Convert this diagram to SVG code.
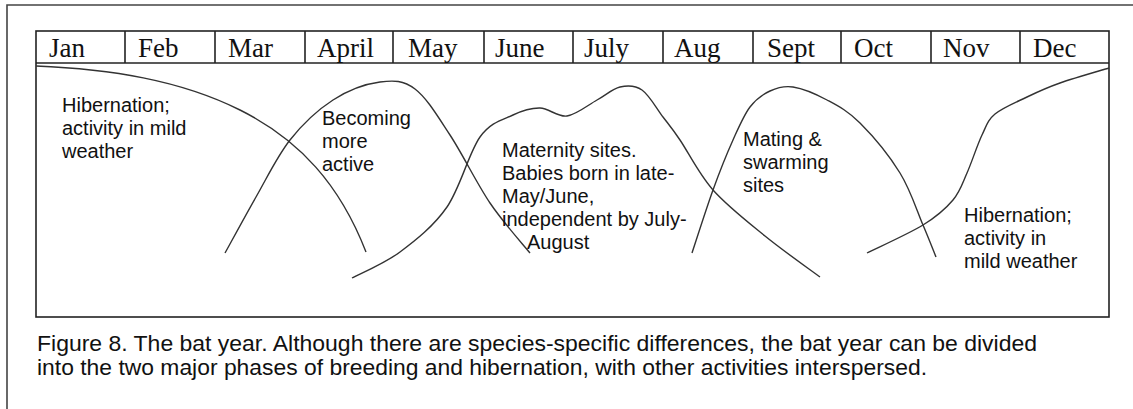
<svg xmlns="http://www.w3.org/2000/svg" width="1133" height="409" viewBox="0 0 1133 409">
<style>
.frame{fill:none;stroke:#444;stroke-width:1.6}
.box{fill:none;stroke:#222;stroke-width:1.6}
.curve{fill:none;stroke:#333;stroke-width:1.4}
.month{font-family:"Liberation Serif","Times New Roman",serif;font-size:27px;fill:#111}
.lbl{font-family:"Liberation Sans",Arial,sans-serif;font-size:20px;fill:#111}
.cap{font-family:"Liberation Sans",Arial,sans-serif;font-size:21.5px;fill:#111}
</style>
<rect width="1133" height="409" fill="#fff"/>
<path class="frame" d="M7,409 V5 H1133"/>
<g id="calendar">
<rect class="box" x="36" y="31" width="1073" height="286"/>
<line class="box" x1="36" y1="63" x2="1109" y2="63"/>
<path class="box" d="M125,31V63M215,31V63M305,31V63M393,31V63M484,31V63M573,31V63M663,31V63M753,31V63M841,31V63M931,31V63M1020,31V63"/>
<text class="month" x="49" y="57">Jan</text>
<text class="month" x="138" y="57">Feb</text>
<text class="month" x="228" y="57">Mar</text>
<text class="month" x="317" y="57">April</text>
<text class="month" x="408" y="57">May</text>
<text class="month" x="495" y="57">June</text>
<text class="month" x="584" y="57">July</text>
<text class="month" x="674" y="57">Aug</text>
<text class="month" x="767" y="57">Sept</text>
<text class="month" x="854" y="57">Oct</text>
<text class="month" x="943" y="57">Nov</text>
<text class="month" x="1033" y="57">Dec</text>
</g>
<g id="connectors">
<path class="curve" d="M36,66 C110,69 180,80 240,110 C300,140 340,185 366,252"/>
<path class="curve" d="M225,253 C230.2,243.7 245.2,215.8 256,197 C266.8,178.2 277.2,156.2 290,140 C302.8,123.8 318,109.7 333,100 C348,90.3 366.3,83.8 380,82 C393.7,80.2 403.3,80.2 415,89 C426.7,97.8 437.5,116 450,135 C462.5,154 476.7,183.3 490,203 C503.3,222.7 523.3,244.7 530,253"/>
<path class="curve" d="M352,278 C360,273.7 384.2,263.8 400,252 C415.8,240.2 433.7,226.2 447,207 C460.3,187.8 469,152.3 480,137 C491,121.7 503,119.8 513,115 C523,110.2 531,107.8 540,108 C549,108.2 557.5,117.3 567,116 C576.5,114.7 588.2,104.8 597,100 C605.8,95.2 612.5,88.7 620,87 C627.5,85.3 634.8,85 642,90 C649.2,95 656.7,108.7 663,117 C669.3,125.3 671.7,127.8 680,140 C688.3,152.2 698.8,174 713,190 C727.2,206 747.2,221.5 765,236 C782.8,250.5 810.8,270.2 820,277"/>
<path class="curve" d="M692,253 C695.5,242.5 706.2,208.8 713,190 C719.8,171.2 726.8,153.8 733,140 C739.2,126.2 743.8,115.2 750,107 C756.2,98.8 762.8,94.3 770,91 C777.2,87.7 783.5,85.5 793,87 C802.5,88.5 815.8,94 827,100 C838.2,106 847.8,110.8 860,123 C872.2,135.2 889.5,156 900,173 C910.5,190 917,211 923,225 C929,239 933.8,251.7 936,257"/>
<path class="curve" d="M867,253 C876.3,248.3 908.7,233.8 923,225 C937.3,216.2 945.7,208.7 953,200 C960.3,191.3 962.2,183.8 967,173 C971.8,162.2 977.3,144.8 982,135 C986.7,125.2 987.5,120.3 995,114 C1002.5,107.7 1016.2,102.2 1027,97 C1037.8,91.8 1046.3,87.8 1060,83 C1073.7,78.2 1100.8,70.5 1109,68"/>
</g>
<g id="hibernation-early">
<text class="lbl" x="62" y="112">Hibernation;</text>
<text class="lbl" x="62" y="135">activity in mild</text>
<text class="lbl" x="62" y="158">weather</text>
</g>
<g id="becoming-active">
<text class="lbl" x="322" y="125">Becoming</text>
<text class="lbl" x="322" y="148">more</text>
<text class="lbl" x="322" y="171">active</text>
</g>
<g id="maternity">
<text class="lbl" x="502" y="157">Maternity sites.</text>
<text class="lbl" x="502" y="180">Babies born in late-</text>
<text class="lbl" x="502" y="203">May/June,</text>
<text class="lbl" x="502" y="226">independent by July-</text>
<text class="lbl" x="527" y="249">August</text>
</g>
<g id="mating">
<text class="lbl" x="743" y="146">Mating &amp;</text>
<text class="lbl" x="743" y="169">swarming</text>
<text class="lbl" x="743" y="192">sites</text>
</g>
<g id="hibernation-late">
<text class="lbl" x="964" y="222">Hibernation;</text>
<text class="lbl" x="964" y="245">activity in</text>
<text class="lbl" x="964" y="268">mild weather</text>
</g>
<g id="caption">
<text class="cap" x="37" y="351" textLength="1000" lengthAdjust="spacingAndGlyphs">Figure 8. The bat year. Although there are species-specific differences, the bat year can be divided</text>
<text class="cap" x="37" y="375" textLength="890" lengthAdjust="spacingAndGlyphs">into the two major phases of breeding and hibernation, with other activities interspersed.</text>
</g>
</svg>
